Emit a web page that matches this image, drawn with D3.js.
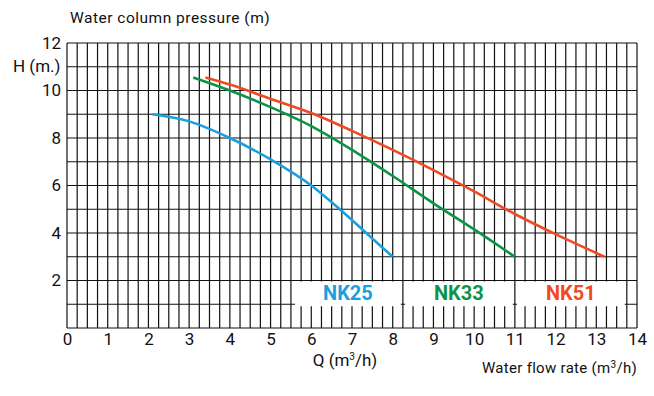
<!DOCTYPE html>
<html>
<head>
<meta charset="utf-8">
<script src="https://cdn.jsdelivr.net/npm/d3@7"></script>
<style>
  body { margin: 0; background: #fff; }
  text { font-family: Roboto, "Noto Sans", sans-serif; }
</style>
</head>
<body>
<div id="chart"></div>
<script>
// pump curves: [Q (m3/h), H (m)]
const nk25 = [[2.1, 9.0], [3, 8.7], [4, 8.0], [5, 7.1], [6, 6.0], [6.7, 5.0], [7.35, 4.0], [8.0, 3.0]];
const nk33 = [[3.1, 10.55], [4, 10.0], [5, 9.3], [6, 8.5], [7, 7.5], [8, 6.4], [9, 5.25], [10, 4.15], [11, 3.0]];
const nk51 = [[3.4, 10.55], [4, 10.25], [5, 9.65], [6, 9.05], [7, 8.3], [8, 7.5], [9, 6.65], [10, 5.75], [11, 4.8], [12, 3.95], [13.2, 3.0]];

const seriesNames = ["NK25", "NK33", "NK51"];
const seriesColors = ["#1a9fe0", "#0b9447", "#f04a24"];
// legend boxes span in Q units
const legendSpans = [[5.6, 8.2], [8.3, 10.95], [11.05, 13.7]];

const xTicks = d3.range(0, 15, 1);
const yTicks = [2, 4, 6, 8, 10, 12];

const margin = {top: 43, right: 17, bottom: 68, left: 67},
    width = 654 - margin.left - margin.right,
    height = 396 - margin.top - margin.bottom;

const svg = d3.select("#chart").append("svg")
    .attr("width", 654)
    .attr("height", 396);

const g = svg.append("g")
    .attr("transform", "translate(" + margin.left + "," + margin.top + ")");

const x = d3.scaleLinear().domain([0, 14]).range([0, width]);
const y = d3.scaleLinear().domain([0, 12]).range([height, 0]);

// vertical grid every 0.25
g.append("g")
    .selectAll("line")
    .data(d3.range(0, 14.01, 0.25))
    .enter()
    .append("line")
    .attr("x1", d => x(d))
    .attr("x2", d => x(d))
    .attr("y1", 0)
    .attr("y2", height)
    .attr("stroke", "#111")
    .attr("stroke-width", 1.2);

// horizontal grid every 1
g.append("g")
    .selectAll("line")
    .data(d3.range(0, 13, 1))
    .enter()
    .append("line")
    .attr("x1", 0)
    .attr("x2", width)
    .attr("y1", d => y(d))
    .attr("y2", d => y(d))
    .attr("stroke", "#111")
    .attr("stroke-width", 1.2);

// white legend boxes
g.append("g")
    .selectAll("rect")
    .data(legendSpans)
    .enter()
    .append("rect")
    .attr("x", d => x(d[0]))
    .attr("width", d => x(d[1]) - x(d[0]))
    .attr("y", y(2) + 1)
    .attr("height", y(1) - y(2) + 1)
    .attr("fill", "#fff");

g.append("g")
    .selectAll("text")
    .data(seriesNames)
    .enter()
    .append("text")
    .attr("x", (d, i) => (x(legendSpans[i][0]) + x(legendSpans[i][1])) / 2)
    .attr("y", (y(2) + y(1)) / 2 + 1)
    .attr("dy", "0.35em")
    .attr("text-anchor", "middle")
    .attr("font-size", 20)
    .attr("font-weight", "bold")
    .attr("fill", (d, i) => seriesColors[i])
    .text(d => d);

// curves
const line = d3.line()
    .x(d => x(d[0]))
    .y(d => y(d[1]))
    .curve(d3.curveMonotoneX);

[nk25, nk33, nk51].forEach(function (s, i) {
    g.append("path")
        .datum(s)
        .attr("d", line)
        .attr("fill", "none")
        .attr("stroke", seriesColors[i])
        .attr("stroke-width", 2.6);
});

// axes (labels only)
g.append("g")
    .attr("transform", "translate(0," + height + ")")
    .call(d3.axisBottom(x).tickValues(xTicks).tickSize(0).tickPadding(5))
    .call(a => a.select(".domain").remove())
    .selectAll("text")
    .attr("font-size", 17)
    .attr("fill", "#111");

g.append("g")
    .call(d3.axisLeft(y).tickValues(yTicks).tickSize(0).tickPadding(6))
    .call(a => a.select(".domain").remove())
    .selectAll("text")
    .attr("font-size", 17)
    .attr("fill", "#111");

svg.append("text")
    .attr("x", 70)
    .attr("y", 23)
    .attr("font-size", 15.5)
    .attr("letter-spacing", 0.5)
    .attr("fill", "#111")
    .text("Water column pressure (m)");

svg.append("text")
    .attr("x", 13)
    .attr("y", 72)
    .attr("font-size", 17)
    .attr("fill", "#111")
    .text("H (m.)");

svg.append("text")
    .attr("x", 345)
    .attr("y", 366)
    .attr("text-anchor", "middle")
    .attr("font-size", 17)
    .attr("fill", "#111")
    .html("Q (m<tspan font-size='10' dy='-6'>3</tspan><tspan dy='6'>/h)</tspan>");

svg.append("text")
    .attr("x", 637)
    .attr("y", 373)
    .attr("text-anchor", "end")
    .attr("font-size", 15)
    .attr("letter-spacing", 0.3)
    .attr("fill", "#111")
    .html("Water flow rate (m<tspan font-size='10' dy='-5'>3</tspan><tspan dy='5'>/h)</tspan>");
</script>
</body>
</html>
